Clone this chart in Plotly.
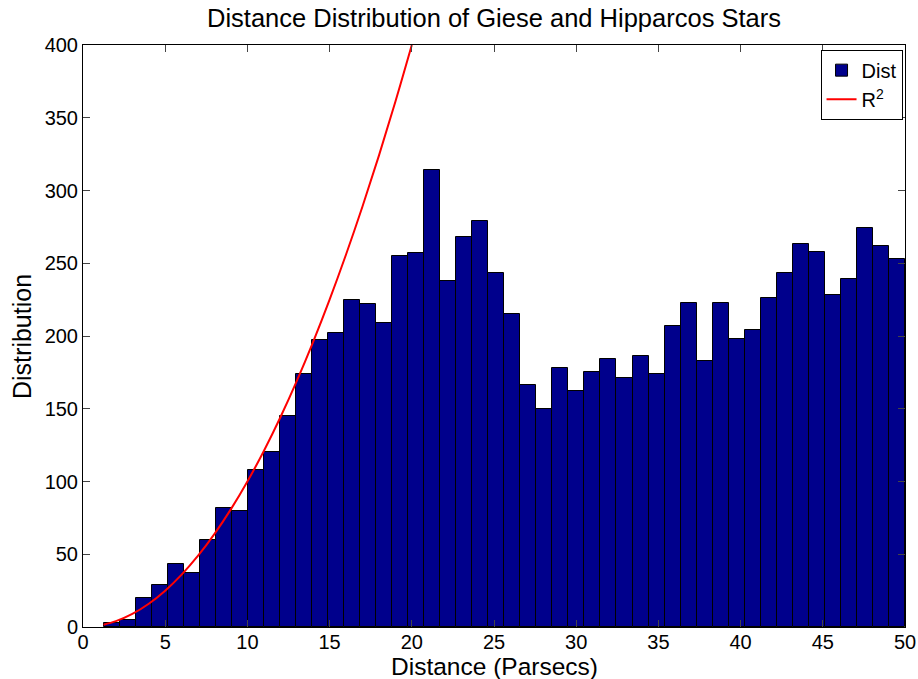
import numpy as np
import plotly.graph_objects as go

# Histogram of distances (50 bins from ~1.25 to 50 pc)
dist_min = 1.25
dist_max = 50.0
n_bins = 50
counts = [3, 5, 20, 29, 43, 37, 60, 82, 80, 108,
          120, 145, 174, 197, 202, 225, 222, 209, 255, 257,
          314, 238, 268, 279, 243, 215, 166, 150, 178, 162,
          175, 184, 171, 186, 174, 207, 223, 183, 223, 198,
          204, 226, 243, 263, 258, 228, 239, 274, 262, 253]

# R^2 reference curve
r2_x = [1.25, 2, 3, 4, 5, 6, 7, 8, 9, 10, 11, 12, 13, 14, 15, 16, 17, 18, 19, 20]
r2_y = [1.6, 4, 9, 16, 25, 36, 49, 64, 81, 100, 121, 144, 169, 196, 225, 256, 289, 324, 361, 400]

x_ticks = [0, 5, 10, 15, 20, 25, 30, 35, 40, 45, 50]
y_ticks = [0, 50, 100, 150, 200, 250, 300, 350, 400]

edges = np.linspace(dist_min, dist_max, n_bins + 1)
centers = (edges[:-1] + edges[1:]) / 2
width = edges[1] - edges[0]

fig = go.Figure()
fig.add_trace(go.Bar(
    x=centers, y=counts, width=width, name="Dist",
    marker=dict(color="rgb(0,0,140)", line=dict(color="black", width=1)),
))
fig.add_trace(go.Scatter(
    x=r2_x, y=r2_y, mode="lines", name="R<sup>2</sup>",
    line=dict(color="rgb(255,0,0)", width=2, shape="spline"),
))

font = "Liberation Sans, Arial, sans-serif"
fig.update_layout(
    width=918, height=679,
    margin=dict(l=83, r=13, t=45, b=52, autoexpand=False),
    paper_bgcolor="white", plot_bgcolor="white",
    font=dict(family=font, size=20, color="black"),
    title=dict(text="Distance Distribution of Giese and Hipparcos Stars",
               x=494 / 918, xanchor="center",
               y=1 - 18 / 679, yanchor="middle",
               font=dict(size=25.5, family=font, color="black")),
    bargap=0,
    showlegend=True,
    legend=dict(x=0.997, y=0.992, xanchor="right", yanchor="top",
                bordercolor="black", borderwidth=1, bgcolor="white",
                font=dict(size=20, family=font), tracegroupgap=0,
                itemwidth=30),
    xaxis=dict(range=[0, 50], tickvals=x_ticks, ticks="inside", ticklen=7,
               showline=True, linecolor="black", linewidth=1, mirror="ticks",
               showgrid=False, zeroline=False, automargin=False,
               ticklabelstandoff=-3,
               tickfont=dict(size=20)),
    yaxis=dict(range=[0, 400], tickvals=y_ticks, ticks="inside", ticklen=7,
               showline=True, linecolor="black", linewidth=1, mirror="ticks",
               showgrid=False, zeroline=False, automargin=False,
               tickfont=dict(size=20)),
    annotations=[
        dict(text="Distance (Parsecs)", xref="paper", yref="paper",
             x=0.5, y=(627 - 666) / 582, xanchor="center", yanchor="middle",
             showarrow=False, font=dict(size=24.5, family=font)),
        dict(text="Distribution", xref="paper", yref="paper",
             x=(22 - 83) / 822, y=0.5, xanchor="center", yanchor="middle",
             textangle=-90, showarrow=False, font=dict(size=25, family=font)),
    ],
)

fig.write_html("out.html")
